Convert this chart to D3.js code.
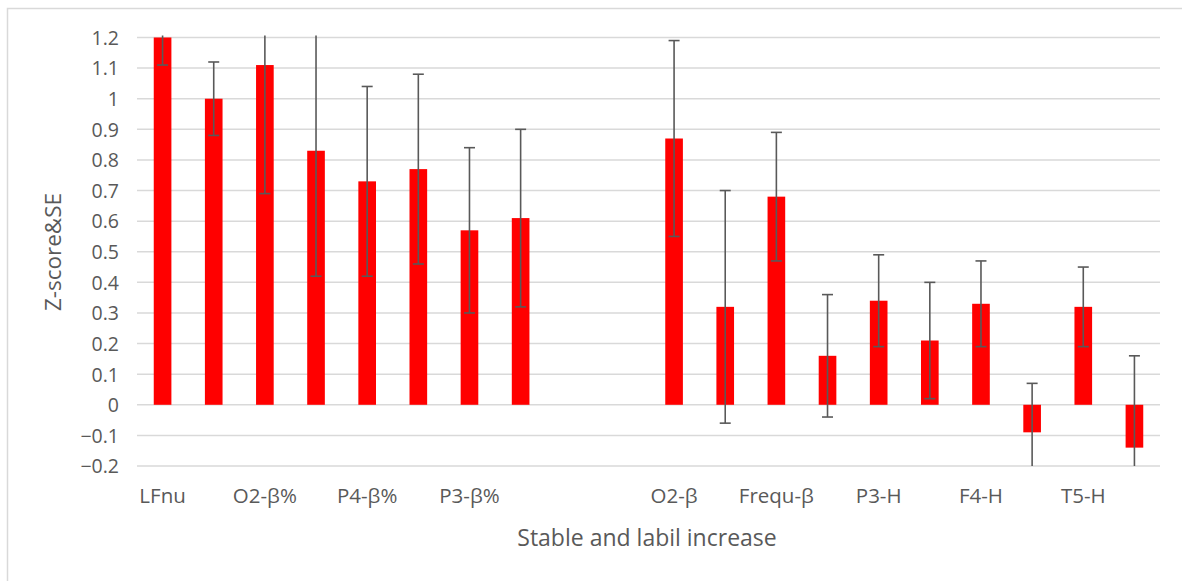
<!DOCTYPE html>
<html><head><meta charset="utf-8">
<script src="https://cdn.jsdelivr.net/npm/d3@7"></script>
<style>body{margin:0;background:#fff}svg{display:block}text{font-family:"Open Sans",sans-serif;fill:#595959}</style>
</head><body><svg id="c" width="1182" height="581"></svg>
<script>
const categories = ["LFnu","c2","O2-β%","c4","P4-β%","c6","P3-β%","c8","e1","e2","O2-β","c12","Frequ-β","c14","P3-H","c16","F4-H","c18","T5-H","c20"];
const tickLabels = ["LFnu","","O2-β%","","P4-β%","","P3-β%","","","","O2-β","","Frequ-β","","P3-H","","F4-H","","T5-H",""];
const values = [1.2,1.0,1.11,0.83,0.73,0.77,0.57,0.61,null,null,0.87,0.32,0.68,0.16,0.34,0.21,0.33,-0.09,0.32,-0.14];
const se = [0.09,0.12,0.42,0.41,0.31,0.31,0.27,0.29,null,null,0.32,0.38,0.21,0.20,0.15,0.19,0.14,0.16,0.13,0.30];
const yTicks = [-0.2,-0.1,0,0.1,0.2,0.3,0.4,0.5,0.6,0.7,0.8,0.9,1,1.1,1.2];

const svg = d3.select("#c");
const m = {l:137, r:1160, t:37.5, b:466};
const x = d3.scaleBand().domain(categories).range([m.l,m.r]).paddingInner(0.655).paddingOuter(0.3275);
const y = d3.scaleLinear().domain([-0.2,1.2]).range([m.b,m.t]);

svg.append("rect").attr("x",7.5).attr("y",8.5).attr("width",1180).attr("height",580).attr("fill","none").attr("stroke","#d9d9d9").attr("stroke-width",1.5);

svg.append("g").selectAll("line").data(yTicks).join("line")
  .attr("x1",m.l).attr("x2",m.r).attr("y1",d=>y(d)).attr("y2",d=>y(d))
  .attr("stroke","#d9d9d9").attr("stroke-width",1.5);

const yAxis = d3.axisLeft(y).tickValues(yTicks).tickSize(0).tickPadding(0).tickFormat(d=>d3.format("")(+d.toFixed(1)));
const ya = svg.append("g").attr("transform","translate(119,0)").call(yAxis);
ya.select(".domain").remove();
ya.selectAll("text").style("font-size","19.5px").attr("fill","#595959").attr("dy","0.35em");

const data = categories.map((c,i)=>({c, v:values[i], e:se[i]})).filter(d=>d.v!==null);

svg.append("g").selectAll("rect").data(data).join("rect")
  .attr("x",d=>x(d.c)).attr("width",x.bandwidth())
  .attr("y",d=>y(Math.min(Math.max(d.v,0),1.2))).attr("height",d=>Math.abs(y(Math.min(d.v,1.2))-y(0)))
  .attr("fill","#ff0000");

const clip = v=>Math.max(-0.2,Math.min(1.2,v));
const eg = svg.append("g").attr("stroke","#595959").attr("stroke-width",1.6);
data.forEach(d=>{
  const cx = x(d.c)+x.bandwidth()/2;
  const hi = d.v+d.e, lo = d.v-d.e;
  eg.append("line").attr("x1",cx).attr("x2",cx).attr("y1",y(clip(hi))-(hi>1.2?2:0)).attr("y2",y(clip(lo)));
  if(hi<=1.2) eg.append("line").attr("x1",cx-5.5).attr("x2",cx+5.5).attr("y1",y(hi)).attr("y2",y(hi));
  if(lo>=-0.2) eg.append("line").attr("x1",cx-5.5).attr("x2",cx+5.5).attr("y1",y(lo)).attr("y2",y(lo));
});

const xAxis = d3.axisBottom(x).tickSize(0).tickFormat((d,i)=>tickLabels[i]);
const xa = svg.append("g").attr("transform","translate(0,485)").call(xAxis);
xa.select(".domain").remove();
xa.selectAll("text").style("font-size","20.5px").attr("fill","#595959");

svg.append("text").attr("x",647).attr("y",546).attr("text-anchor","middle").style("font-size","23px").text("Stable and labil increase");
svg.append("text").attr("transform","translate(61,252) rotate(-90)").attr("text-anchor","middle").style("font-size","22.5px").text("Z-score&SE");
</script></body></html>
